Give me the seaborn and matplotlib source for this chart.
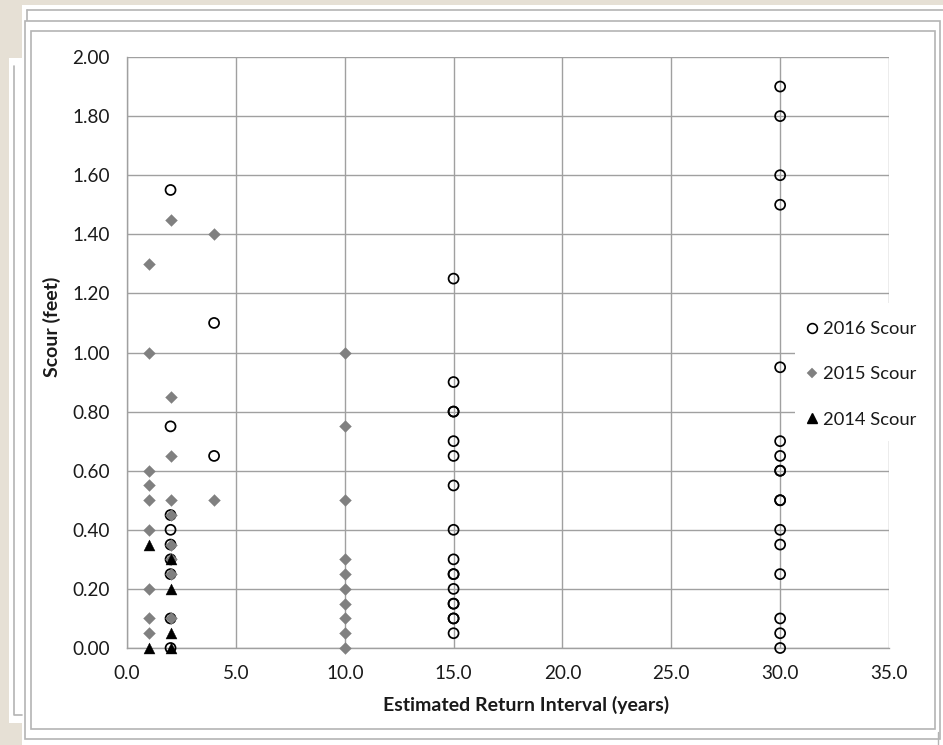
import numpy as np
import pandas as pd
import matplotlib
matplotlib.use("Agg")
import matplotlib.pyplot as plt
import seaborn as sns
from matplotlib.patches import Rectangle
from matplotlib.lines import Line2D

# ---------------- data ----------------
x_2016 = [2, 2, 2, 2, 2, 2, 2, 2, 2,
          4, 4,
          15, 15, 15, 15, 15, 15, 15, 15, 15, 15, 15, 15, 15, 15, 15, 15, 15,
          30, 30, 30, 30, 30, 30, 30, 30, 30, 30, 30, 30, 30, 30, 30, 30, 30]
y_2016 = [1.55, 0.75, 0.45, 0.40, 0.35, 0.30, 0.25, 0.10, 0.00,
          1.10, 0.65,
          1.25, 0.90, 0.80, 0.80, 0.70, 0.65, 0.55, 0.40, 0.30, 0.25, 0.25, 0.20, 0.15, 0.15, 0.10, 0.10, 0.05,
          1.90, 1.80, 1.60, 1.50, 0.95, 0.70, 0.65, 0.60, 0.60, 0.50, 0.50, 0.40, 0.35, 0.25, 0.10, 0.05, 0.00]

x_2015 = [1, 1, 1, 1, 1, 1, 1, 1, 1,
          2, 2, 2, 2, 2, 2, 2, 2, 2,
          4, 4,
          10, 10, 10, 10, 10, 10, 10, 10, 10, 10]
y_2015 = [1.30, 1.00, 0.60, 0.55, 0.50, 0.40, 0.20, 0.10, 0.05,
          1.45, 0.85, 0.65, 0.50, 0.45, 0.35, 0.30, 0.25, 0.10,
          1.40, 0.50,
          1.00, 0.75, 0.50, 0.30, 0.25, 0.20, 0.15, 0.10, 0.05, 0.00]

x_2014 = [1, 1, 2, 2, 2, 2]
y_2014 = [0.35, 0.00, 0.30, 0.20, 0.05, 0.00]

series_labels = ["2016 Scour", "2015 Scour", "2014 Scour"]
x_ticks = [0, 5, 10, 15, 20, 25, 30, 35]
y_ticks = [0.0, 0.2, 0.4, 0.6, 0.8, 1.0, 1.2, 1.4, 1.6, 1.8, 2.0]
x_title = "Estimated Return Interval (years)"
y_title = "Scour (feet)"

df16 = pd.DataFrame({"x": x_2016, "y": y_2016})
df15 = pd.DataFrame({"x": x_2015, "y": y_2015})
df14 = pd.DataFrame({"x": x_2014, "y": y_2014})

# ---------------- style ----------------
sns.set_theme(style="white")
plt.rcParams["font.family"] = ["Lato", "DejaVu Sans"]

W, H = 943, 745
fig = plt.figure(figsize=(W / 100, H / 100), dpi=100)
fig.patch.set_facecolor("#E6E0D5")

def px_rect(x0, y0, x1, y1, z, **kw):
    r = Rectangle((x0 / W, 1 - y1 / H), (x1 - x0) / W, (y1 - y0) / H,
                  transform=fig.transFigure, zorder=z, **kw)
    fig.patches.append(r)

def px_line(xs, ys, z, **kw):
    fig.lines.append(Line2D([x / W for x in xs], [1 - y / H for y in ys],
                            transform=fig.transFigure, zorder=z, **kw))

border = "#B4B4B4"
# back slides / frames
px_rect(22, 5, 943, 745, -10, facecolor="white", edgecolor="none")
px_line([27, 943], [10, 10], -9, color=border, lw=1.2)
px_line([27, 27], [10, 22], -9, color=border, lw=1.2)
px_rect(9, 58, 30, 723, -8, facecolor="white", edgecolor="none")
px_line([13.5, 13.5, 22], [66, 715, 715], -7, color=border, lw=1.2)
px_rect(25, 20.5, 940, 739, -6, facecolor="white", edgecolor=border, lw=1.2)
px_rect(31, 31, 935, 729, -5, facecolor="white", edgecolor=border, lw=1.2)
px_line([938, 938], [732, 745], -4, color=border, lw=1.0)

# axes
L, R, T, B = 127, 889, 57, 648
ax = fig.add_axes([L / W, 1 - B / H, (R - L) / W, (B - T) / H])
ax.set_facecolor("none")
ax.set_zorder(1)

grid_c = "#A0A0A0"
sns.scatterplot(data=df16, x="x", y="y", ax=ax, marker="o", s=52,
                facecolor="none", edgecolor="black", linewidth=1.25,
                clip_on=False, zorder=3)
sns.scatterplot(data=df15, x="x", y="y", ax=ax, marker="D", s=36,
                color="#808080", edgecolor="#808080", linewidth=0.3,
                clip_on=False, zorder=4)
sns.scatterplot(data=df14, x="x", y="y", ax=ax, marker="^", s=62,
                color="black", edgecolor="black", linewidth=0.3,
                clip_on=False, zorder=5)

ax.set_xlim(0, 35)
ax.set_ylim(0, 2.0)
ax.set_xticks(x_ticks)
ax.set_yticks(y_ticks)
ax.set_xticklabels([f"{v:.1f}" for v in x_ticks])
ax.set_yticklabels([f"{v:.2f}" for v in y_ticks])
ax.grid(True, color=grid_c, lw=1.0)
ax.set_axisbelow(True)
for s in ["top", "right"]:
    ax.spines[s].set_visible(False)
for s in ["left", "bottom"]:
    ax.spines[s].set_color(grid_c)
    ax.spines[s].set_linewidth(1.0)
ax.tick_params(axis="both", which="major", direction="out", length=5,
               width=1.0, color=grid_c, labelsize=13.6, labelcolor="#1a1a1a")
ax.tick_params(axis="y", pad=7.5)
ax.tick_params(axis="x", pad=7.5)

ax.set_xlabel(x_title, fontsize=14, fontweight="bold", color="#1a1a1a")
ax.set_ylabel(y_title, fontsize=14, fontweight="bold", color="#1a1a1a")
ax.xaxis.set_label_coords((526 - L) / (R - L), (B - 696) / (B - T))
ax.yaxis.set_label_coords((61 - L) / (R - L), (B - 327) / (B - T))

# legend background covering grid
bg = Rectangle(((795 - L) / (R - L), (B - 441) / (B - T)),
               (934 - 795) / (R - L), (441 - 303) / (B - T),
               transform=ax.transAxes, facecolor="white", edgecolor="none",
               clip_on=False, zorder=6)
ax.add_patch(bg)

handles = [
    Line2D([], [], marker="o", ls="none", markersize=7, markerfacecolor="none",
           markeredgecolor="black", markeredgewidth=1.2),
    Line2D([], [], marker="D", ls="none", markersize=5.2, markerfacecolor="#808080",
           markeredgecolor="#808080", markeredgewidth=0.3),
    Line2D([], [], marker="^", ls="none", markersize=7.5, markerfacecolor="black",
           markeredgecolor="black"),
]
fs = 13.2
fpx = fs * 100 / 72
leg = ax.legend(handles, series_labels, loc="upper left",
                bbox_to_anchor=((812 - 0.4 * fpx) / W, 1 - 321 / H),
                bbox_transform=fig.transFigure, frameon=False,
                fontsize=fs, handlelength=0.8, handletextpad=0.22,
                labelspacing=1.6, borderpad=0, borderaxespad=0)
leg.set_zorder(7)
for t in leg.get_texts():
    t.set_color("#1a1a1a")

fig.savefig("out.png", dpi=100, facecolor=fig.get_facecolor())
